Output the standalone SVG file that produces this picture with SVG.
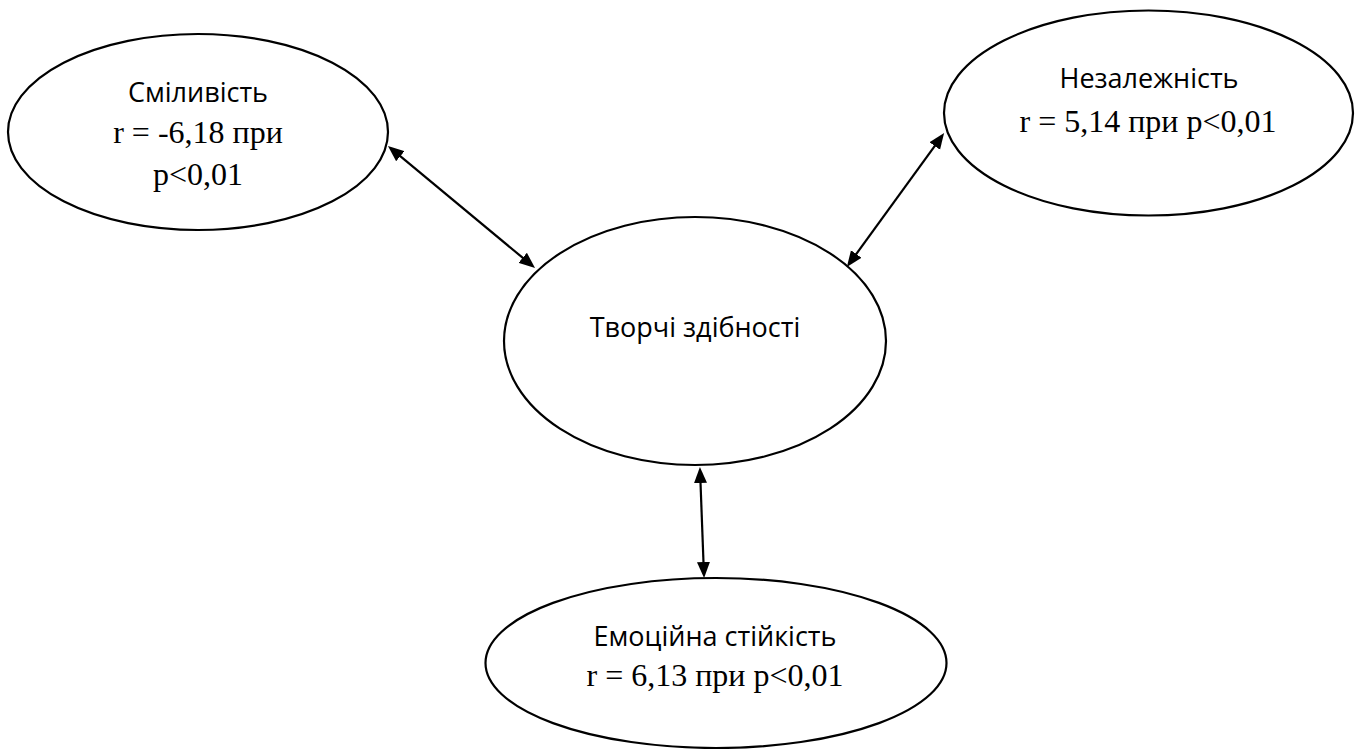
<svg xmlns="http://www.w3.org/2000/svg" width="1360" height="749" viewBox="0 0 1360 749">
<style>
.node ellipse{fill:#fff;stroke:#000;stroke-width:2.2}
.sans{font-family:"Open Sans","Liberation Sans",sans-serif;font-size:27px;fill:#000;text-anchor:middle}
.serif{font-family:"Liberation Serif","Times New Roman",serif;font-size:32px;fill:#000;text-anchor:middle}
.conn line{stroke:#000;stroke-width:2.2;marker-start:url(#ah);marker-end:url(#ah)}
</style>
<defs>
<marker id="ah" markerUnits="userSpaceOnUse" markerWidth="16" markerHeight="14" refX="11" refY="6.5" orient="auto-start-reverse" viewBox="0 0 16 13">
<path d="M0,0 L16,6.5 L0,13 Z" fill="#000"/>
</marker>
</defs>
<rect width="1360" height="749" fill="#fff"/>
<g id="n-smilyvist" class="node">
<ellipse cx="198" cy="132" rx="190" ry="98"/>
<text class="sans" x="198" y="102">Сміливість</text>
<text class="serif" x="198" y="143">r = -6,18 при</text>
<text class="serif" x="198" y="185">p&lt;0,01</text>
</g>
<g id="n-nezalezhnist" class="node">
<ellipse cx="1148.5" cy="113" rx="204.5" ry="102.5"/>
<text class="sans" x="1149" y="88">Незалежність</text>
<text class="serif" x="1148" y="132">r = 5,14 при p&lt;0,01</text>
</g>
<g id="n-tvorchi" class="node">
<ellipse cx="695" cy="341" rx="191" ry="124"/>
<text class="sans" x="695" y="337">Творчі здібності</text>
</g>
<g id="n-emotsiina" class="node">
<ellipse cx="716" cy="663" rx="230.5" ry="85"/>
<text class="sans" x="715" y="646">Емоційна стійкість</text>
<text class="serif" x="715" y="686">r = 6,13 при p&lt;0,01</text>
</g>
<g id="connectors" class="conn">
<line x1="391.8" y1="149.2" x2="531.2" y2="264.8"/>
<line x1="941.2" y1="137.1" x2="849.8" y2="262.9"/>
<line x1="700.1" y1="472" x2="703.9" y2="573"/>
</g>
</svg>
